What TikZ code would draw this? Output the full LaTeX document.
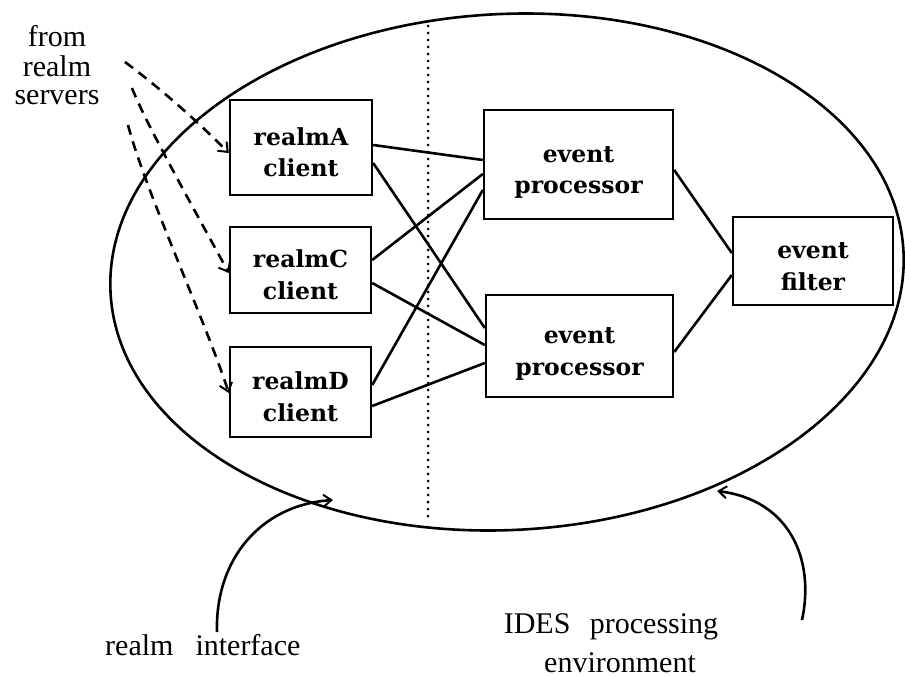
\documentclass[tikz,border=0pt]{standalone}
\usepackage{fontspec}
\setmainfont{Liberation Serif}
\newfontfamily\boxfont{DejaVu Serif}
\usetikzlibrary{arrows.meta,calc}

% two centred lines, lowered a little inside their box
\newcommand\twolines[2]{\raisebox{-7pt}[\height][\depth]{\begin{tabular}{@{}c@{}}#1\\#2\end{tabular}}}
% lines stacked with the first baseline as reference
\newcommand\stacked[1]{\begin{tabular}[t]{@{}c@{}}#1\end{tabular}}

\tikzset{
  box/.style={draw, line width=2.4pt, inner sep=0pt,
    font=\boxfont\bfseries\fontsize{23.5}{31.5}\selectfont},
  link/.style={line width=2.6pt},
  feed/.style={line width=2.6pt, dash pattern=on 10pt off 7pt,
    -{Straight Barb[length=8pt,width=13pt,line width=2pt]}},
  pointer/.style={line width=2.6pt,
    -{Straight Barb[length=8pt,width=12pt,line width=2pt]}},
  lbl/.style={inner sep=0pt},
}

\begin{document}
\begin{tikzpicture}[x=1pt,y=-1pt]
\useasboundingbox (0,0) rectangle (905,677);

% processing environment
\draw[line width=2.6pt, rotate around={3:(507,272)}]
  (507,272) ellipse [x radius=397pt, y radius=258pt];

% interface boundary
\coordinate (divtop) at (428,26);
\coordinate (divbot) at (428,517);
\draw[line width=3pt, line cap=round, dash pattern=on 0pt off 7pt] (divtop) -- (divbot);

% realm clients
\node[box, minimum width=142pt, minimum height=95pt] (a) at (301,147.5) {\twolines{realmA}{client}};
\node[box, minimum width=141pt, minimum height=86pt] (c) at (300.5,270) {\twolines{realmC}{client}};
\node[box, minimum width=141pt, minimum height=90pt] (d) at (300.5,392) {\twolines{realmD}{client}};

% processors and filter
\node[box, minimum width=189pt, minimum height=109pt] (p1) at (578.5,164.5) {\twolines{event}{processor}};
\node[box, minimum width=187pt, minimum height=102pt] (p2) at (579.5,346) {\twolines{event}{processor}};
\node[box, minimum width=160pt, minimum height=88pt] (f) at (813,261) {\twolines{event}{filter}};

% client to processor links
\draw[link] ($(a.east)+(0,-2.5)$) -- ($(p1.west)+(0,-4.5)$);
\draw[link] ($(a.east)+(0,15.5)$) -- ($(p2.west)+(0,-18)$);
\draw[link] ($(c.east)+(0,-10)$) -- ($(p1.west)+(0,9.5)$);
\draw[link] ($(c.east)+(0,13)$) -- ($(p2.west)+(0,-1)$);
\draw[link] ($(d.east)+(0,-7)$) -- ($(p1.west)+(0,25.5)$);
\draw[link] ($(d.east)+(0,14)$) -- ($(p2.west)+(0,17)$);
% processor to filter links
\draw[link] ($(p1.east)+(0,5.5)$) -- ($(f.west)+(0,-8)$);
\draw[link] ($(p2.east)+(0,6)$) -- ($(f.west)+(0,14)$);

% feeds from the realm servers
\node[lbl, font=\fontsize{30}{28}\selectfont, anchor=base] (src) at (57,47) {\stacked{from\\realm\\servers}};
\coordinate (s1) at (125,62);
\coordinate (s2) at (132,88);
\coordinate (s3) at (128,125);
\draw[feed] (s1) .. controls (165,92) and (200,124) .. ($(a.west)+(0,5.5)$);
\draw[feed] (s2) .. controls (145,122) and (200,220) .. ($(c.west)+(0,3)$);
\draw[feed] (s3) .. controls (145,190) and (205,320) .. ($(d.west)+(0,1)$);

% bottom labels with their pointers
\node[lbl, font=\fontsize{30}{36}\selectfont, anchor=base west] (ri) at (105,655) {realm\hspace{22pt}interface};
\node[lbl, font=\fontsize{30}{39}\selectfont, anchor=base] (ipe) at (611,633)
  {\stacked{IDES\hspace{12pt} processing\\\hspace*{18pt}environment}};
\coordinate (riA) at (217,632);
\coordinate (riB) at (333,500);
\coordinate (ipA) at (802,620);
\coordinate (ipB) at (717,491);
\draw[pointer] (riA) .. controls (215,560) and (260,505) .. (riB);
\draw[pointer] (ipA) .. controls (815,560) and (790,500) .. (ipB);
\end{tikzpicture}
\end{document}
